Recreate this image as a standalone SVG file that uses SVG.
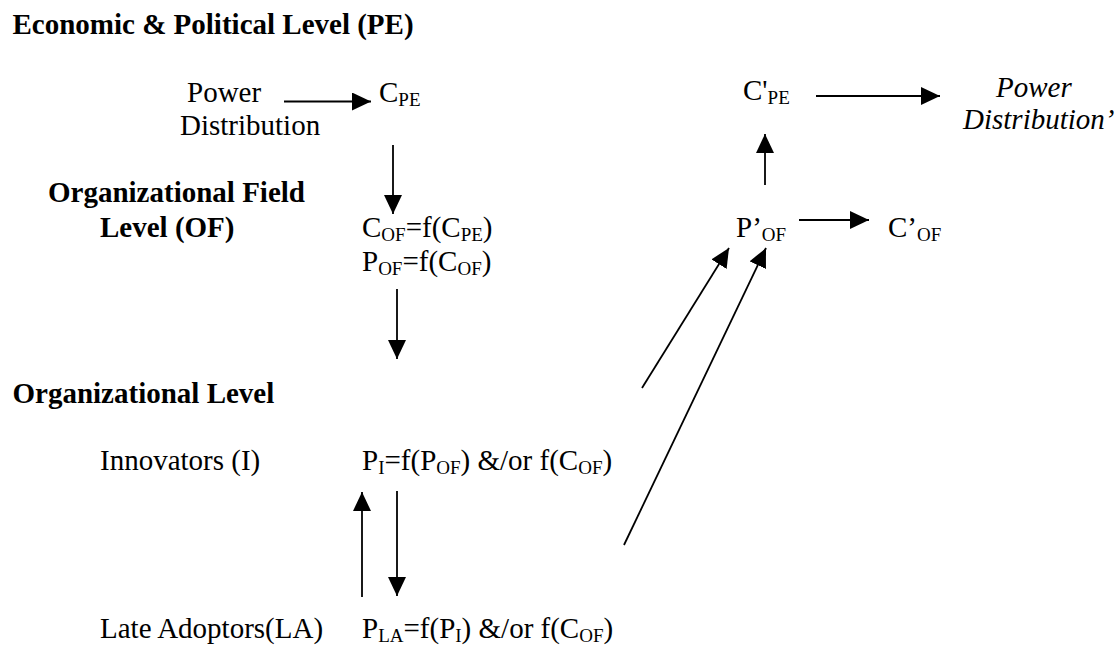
<svg xmlns="http://www.w3.org/2000/svg" width="1118" height="652" viewBox="0 0 1118 652">
<style>
text{font-family:"Liberation Serif","Times New Roman",serif;font-size:29px;fill:#000}
.b{font-weight:bold}
.i{font-style:italic}
.s{font-size:19px}
.c line{stroke:#000;stroke-width:1.8;marker-end:url(#ah)}
</style>
<defs>
<marker id="ah" markerUnits="userSpaceOnUse" markerWidth="20" markerHeight="18" refX="19" refY="9" orient="auto">
<path d="M0,0 L19,9 L0,18 Z" fill="#000"/>
</marker>
</defs>
<rect width="1118" height="652" fill="#fff"/>
<g id="levels">
<text class="b" x="12.5" y="34">Economic &amp; Political Level (PE)</text>
<text class="b" x="48" y="202">Organizational Field</text>
<text class="b" x="100" y="237">Level (OF)</text>
<text class="b" x="12.5" y="403">Organizational Level</text>
</g>
<g id="power-distribution">
<text x="187" y="102">Power</text>
<text x="180" y="135">Distribution</text>
</g>
<g id="c-pe"><text x="379" y="102">C<tspan class="s" dy="4">PE</tspan></text></g>
<g id="of-eq">
<text x="362" y="237">C<tspan class="s" dy="4">OF</tspan><tspan dy="-4">=f(C</tspan><tspan class="s" dy="4">PE</tspan><tspan dy="-4">)</tspan></text>
<text x="362" y="271">P<tspan class="s" dy="4">OF</tspan><tspan dy="-4">=f(C</tspan><tspan class="s" dy="4">OF</tspan><tspan dy="-4">)</tspan></text>
</g>
<g id="innovators">
<text x="100" y="470">Innovators (I)</text>
<text x="362" y="470">P<tspan class="s" dy="4">I</tspan><tspan dy="-4">=f(P</tspan><tspan class="s" dy="4">OF</tspan><tspan dy="-4">) &amp;/or f(C</tspan><tspan class="s" dy="4">OF</tspan><tspan dy="-4">)</tspan></text>
</g>
<g id="late-adoptors">
<text x="100" y="638">Late Adoptors(LA)</text>
<text x="362" y="638">P<tspan class="s" dy="4">LA</tspan><tspan dy="-4">=f(P</tspan><tspan class="s" dy="4">I</tspan><tspan dy="-4">) &amp;/or f(C</tspan><tspan class="s" dy="4">OF</tspan><tspan dy="-4">)</tspan></text>
</g>
<g id="p-of-prime"><text x="736" y="237">P’<tspan class="s" dy="4">OF</tspan></text></g>
<g id="c-of-prime"><text x="888" y="237">C’<tspan class="s" dy="4">OF</tspan></text></g>
<g id="c-pe-prime"><text x="743" y="100">C'<tspan class="s" dy="4">PE</tspan></text></g>
<g id="power-distribution-prime">
<text class="i" x="996" y="97">Power</text>
<text class="i" x="963" y="129">Distribution’</text>
</g>
<g id="connectors" class="c">
<line x1="284" y1="101.5" x2="371" y2="101.5"/>
<line x1="393" y1="145" x2="393" y2="214"/>
<line x1="397" y1="289" x2="397" y2="359"/>
<line x1="362" y1="597" x2="362" y2="492"/>
<line x1="397" y1="491" x2="397" y2="596"/>
<line x1="642" y1="388" x2="729" y2="248"/>
<line x1="624" y1="545" x2="766" y2="248"/>
<line x1="799" y1="220" x2="869" y2="220"/>
<line x1="765" y1="185" x2="765" y2="134"/>
<line x1="816" y1="96" x2="940" y2="96"/>
</g>
</svg>
